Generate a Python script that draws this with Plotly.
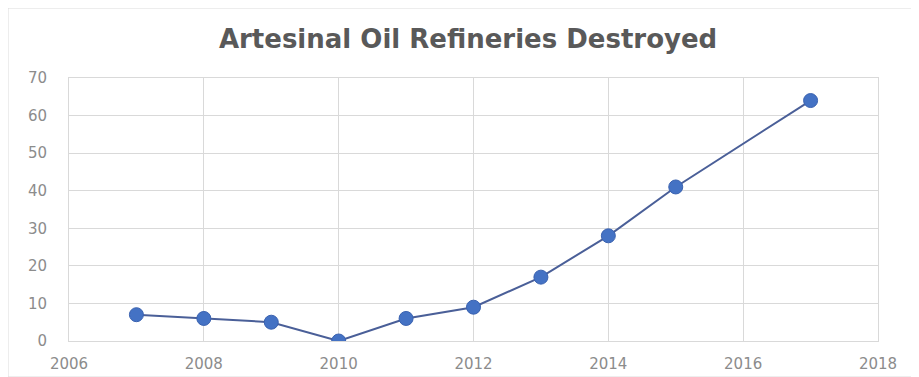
import plotly.graph_objects as go

years = [2007, 2008, 2009, 2010, 2011, 2012, 2013, 2014, 2015, 2017]
destroyed = [7, 6, 5, 0, 6, 9, 17, 28, 41, 64]
x_ticks = [2006, 2008, 2010, 2012, 2014, 2016, 2018]
y_ticks = [0, 10, 20, 30, 40, 50, 60, 70]

fig = go.Figure()
fig.add_trace(go.Scatter(
    x=years, y=destroyed, mode="lines+markers",
    line=dict(color="#4a5f98", width=2),
    marker=dict(color="#4472C4", size=14, line=dict(color="#3a62b0", width=1)),
    showlegend=False,
))

axis_font = dict(family="DejaVu Sans", size=15, color="#8c8c8c")
PW, PH = 809, 263
fig.update_layout(
    width=911, height=369,
    margin=dict(l=61, r=41, t=70, b=36, autoexpand=False),
    paper_bgcolor="white", plot_bgcolor="white",
    title=dict(text="<b>Artesinal Oil Refineries Destroyed</b>", x=0.505, xanchor="center",
               y=0.916, yanchor="middle",
               font=dict(family="DejaVu Sans", size=26, color="#595959")),
    xaxis=dict(range=[2006, 2018], tickvals=x_ticks, ticktext=[str(v) for v in x_ticks],
               showgrid=True, gridcolor="#d9d9d9", gridwidth=1,
               showline=True, linecolor="#d9d9d9", mirror=True, zeroline=False,
               tickfont=axis_font, ticks="", ticklabelstandoff=9, automargin=False),
    yaxis=dict(range=[0, 70], tickvals=y_ticks, ticktext=[str(v) for v in y_ticks],
               showgrid=True, gridcolor="#d9d9d9", gridwidth=1,
               showline=True, linecolor="#d9d9d9", mirror=True, zeroline=False,
               tickfont=axis_font, ticks="", ticklabelstandoff=18, automargin=False),
    shapes=[dict(type="rect", xref="paper", yref="paper",
                 x0=-61 / PW, x1=1 + 41 / PW, y0=-36 / PH, y1=1 + 70 / PH,
                 line=dict(color="#dcdcdc", width=1), layer="below")],
)

fig.write_html("out.html")
